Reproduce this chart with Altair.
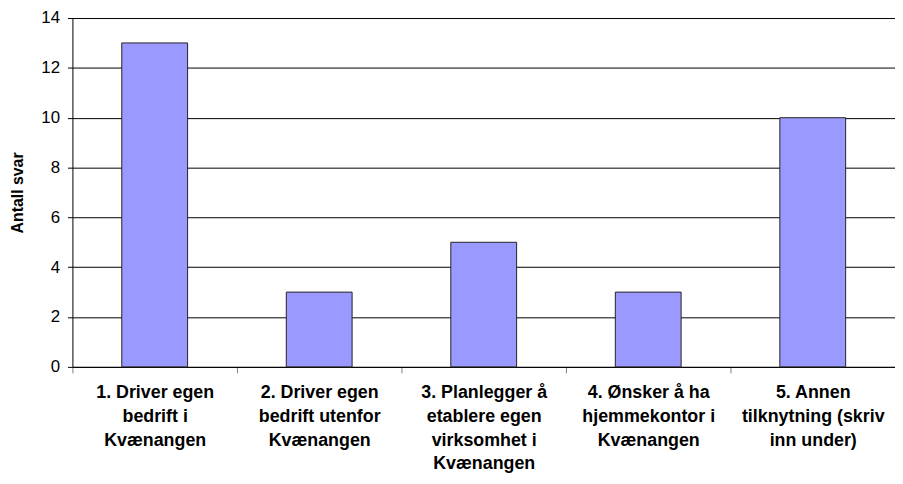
import altair as alt
import pandas as pd

categories = [
    "1. Driver egen|bedrift i|Kvænangen",
    "2. Driver egen|bedrift utenfor|Kvænangen",
    "3. Planlegger å|etablere egen|virksomhet i|Kvænangen",
    "4. Ønsker å ha|hjemmekontor i|Kvænangen",
    "5. Annen|tilknytning (skriv|inn under)",
]
values = [13, 3, 5, 3, 10]
y_ticks = [0, 2, 4, 6, 8, 10, 12, 14]

df = pd.DataFrame({"kategori": categories, "antall": values})

chart = alt.Chart(df).mark_bar(
    color="#9999FF", stroke="#222222", strokeWidth=1,
    width=alt.RelativeBandSize(0.4)
).encode(
    x=alt.X("kategori:N", sort=categories, title=None,
            scale=alt.Scale(paddingInner=0, paddingOuter=0),
            axis=alt.Axis(labelAngle=0, labelExpr="split(datum.label, '|')",
                          labelFont="Liberation Sans", labelFontSize=18,
                          labelFontWeight="bold", labelColor="black",
                          labelLineHeight=24, labelPadding=11, labelBaseline="top",
                          tickBand="extent", tickColor="#808080", tickSize=6,
                          domainColor="black", grid=False, labelLimit=220)),
    y=alt.Y("antall:Q", title="Antall svar",
            scale=alt.Scale(domain=[0, 14]),
            axis=alt.Axis(values=y_ticks,
                          labelFont="Liberation Sans", labelFontSize=17,
                          labelColor="black", labelPadding=8,
                          tickColor="black", tickSize=5, domainColor="black",
                          gridColor="black", gridOpacity=1, gridWidth=1,
                          titleFont="Liberation Sans", titleFontSize=16,
                          titleFontWeight="bold", titleColor="black",
                          titlePadding=15)),
).properties(
    width=830, height=352,
    autosize=alt.AutoSizeParams(type="none"),
    padding={"left": 65, "top": 8, "right": 0, "bottom": 108},
).configure_view(stroke=None)

chart.save("out.html", embed_options={"renderer": "svg", "actions": False})
